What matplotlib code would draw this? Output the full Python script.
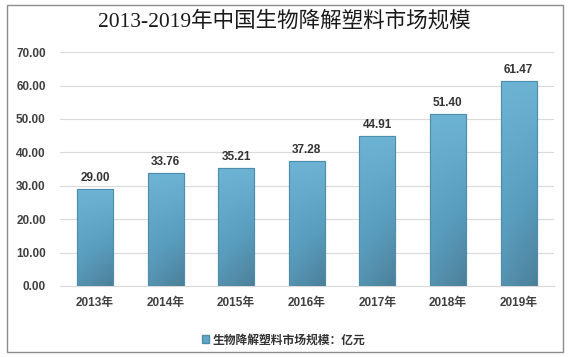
import matplotlib
matplotlib.use("Agg")
import matplotlib.pyplot as plt
import numpy as np
from matplotlib.patches import Rectangle
from matplotlib.colors import LinearSegmentedColormap

years = ["2013年", "2014年", "2015年", "2016年", "2017年", "2018年", "2019年"]
values = [29.00, 33.76, 35.21, 37.28, 44.91, 51.40, 61.47]
yticks = [0, 10, 20, 30, 40, 50, 60, 70]
title = "2013-2019年中国生物降解塑料市场规模"
legend_label = "生物降解塑料市场规模：亿元"

plt.rcParams['font.family'] = ['Liberation Sans', 'Noto Sans CJK SC', 'DejaVu Sans']

fig = plt.figure(figsize=(5.68, 3.57), dpi=100)
ax = fig.add_axes([0.105, 0.199, 0.870, 0.655])

x = np.arange(len(years))
bars = ax.bar(x, values, width=0.51, color='#5fa5c6', edgecolor='#4f8eab',
              linewidth=0.8, zorder=3, label=legend_label)

cmap = LinearSegmentedColormap.from_list('g', ['#6db3d4', '#5a9ebf', '#4c7f98'])
gx, gy = np.meshgrid(np.linspace(0, 1, 50), np.linspace(0, 1, 100))
for b in bars:
    x0, y0 = b.get_x(), b.get_y()
    w, h = b.get_width(), b.get_height()
    grad = 0.75 * gy + 0.35 * gx * gy
    im = ax.imshow(grad, cmap=cmap, vmin=0, vmax=1.1, origin='upper',
                   extent=[x0, x0 + w, y0, y0 + h], aspect='auto', zorder=3.5)
    im.set_clip_path(b)
    edge = Rectangle((x0, y0), w, h, fill=False, edgecolor='#4f8eab', linewidth=0.8, zorder=4)
    ax.add_patch(edge)

for xi, v in zip(x, values):
    ax.text(xi, v + 1.5, f"{v:.2f}", ha='center', va='bottom', fontsize=8.5,
            fontweight='bold', color='#333333', zorder=5)

ax.set_xlim(-0.5, len(years) - 0.5)
ax.set_ylim(0, 70)
ax.set_yticks(yticks)
ax.set_yticklabels([f"{t:.2f}" for t in yticks], fontsize=8.5, fontweight='bold', color='#404040')
ax.set_xticks(x)
ax.set_xticklabels(years, fontsize=8.5, fontweight='bold', color='#404040')
ax.tick_params(axis='both', length=0, pad=8)
ax.tick_params(axis='y', pad=10)
ax.grid(axis='y', color='#d9d9d9', linewidth=0.8, zorder=0)
for s in ['top', 'right', 'left']:
    ax.spines[s].set_visible(False)
ax.spines['bottom'].set_color('#d9d9d9')

fig.text(0.5, 0.942, title, ha='center', va='center', fontsize=15.5, fontweight='medium',
         family=['Liberation Serif', 'Noto Sans CJK SC'], color='#1a1a1a')

leg = fig.legend(handles=[Rectangle((0, 0), 1, 1, facecolor='#5fa5c6', edgecolor='#4f8eab')],
                 labels=[legend_label], loc='center', bbox_to_anchor=(0.5, 0.048),
                 frameon=False, handlelength=0.6, handleheight=0.6, handletextpad=0.3,
                 prop={'size': 8.5, 'weight': 'bold', 'family': ['Noto Sans CJK SC']})
for t in leg.get_texts():
    t.set_color('#333333')

fig.patches.append(Rectangle((7 / 568, 1 - 352 / 357), 556 / 568, 347 / 357,
                             transform=fig.transFigure, fill=False, edgecolor='#8c8c8c',
                             linewidth=1.0))

fig.savefig("out.png", dpi=100)
